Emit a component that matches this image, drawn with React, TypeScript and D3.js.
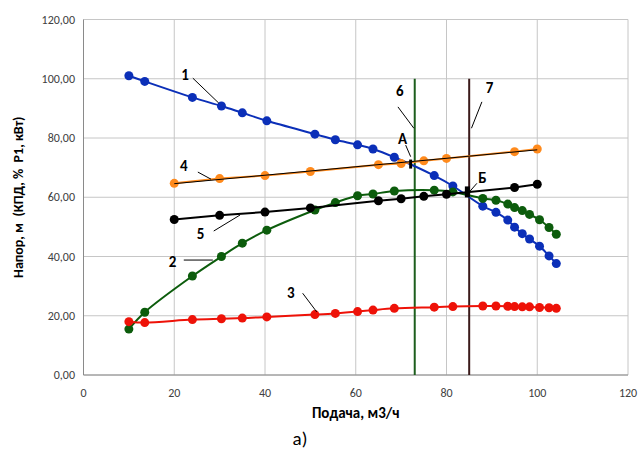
import React from "react";
import * as d3 from "d3";

// Shared flow values (m3/h) for series 1, 2, 3
const flowQ = [10, 13.5, 24, 30.4, 35, 40.4, 51, 55.5, 60.4, 63.8, 68.5, 77.3, 81.4, 88, 90.9, 93.5, 95, 96.7, 98.3, 100.5, 102.6, 104.2];
const headH = [101.0, 99.1, 93.7, 90.8, 88.5, 85.8, 81.3, 79.4, 77.7, 76.3, 73.5, 67.3, 63.8, 57.0, 54.9, 52.3, 49.9, 47.7, 45.9, 43.5, 40.2, 37.6];
const efficiency = [15.5, 21.2, 33.4, 40.0, 44.5, 48.9, 55.7, 58.2, 60.5, 61.1, 62.1, 62.4, 61.8, 59.6, 59.0, 57.7, 56.5, 55.5, 54.2, 52.4, 49.8, 47.5];
const powerP1 = [18.0, 17.7, 18.7, 19.0, 19.2, 19.6, 20.4, 20.8, 21.4, 21.9, 22.5, 22.9, 23.1, 23.3, 23.3, 23.2, 23.1, 23.0, 23.0, 22.8, 22.7, 22.5];

// Network characteristics (series 4, 5)
const netQ = [20, 30, 40, 50, 65, 70, 75, 80, 95, 100];
const net4 = [64.7, 66.3, 67.3, 68.7, 71.0, 71.4, 72.3, 73.1, 75.4, 76.3];
const net5 = [52.5, 53.9, 55.0, 56.4, 58.8, 59.5, 60.3, 61.0, 63.3, 64.4];

// Vertical lines 6 and 7
const verticalQ = [73, 85];
const verticalTop = 100;

// Operating points А and Б
const opPoints = [
  { q: 72.1, v: 71.2 },
  { q: 84.6, v: 61.8 },
];

// Callout labels: text position and leader line (data coordinates)
const callouts = [
  { t: "1", tx: 22.4, ty: 101.4, x1: 24.1, y1: 100.2, x2: 29.8, y2: 91.8 },
  { t: "4", tx: 22.1, ty: 70.5, x1: 25.2, y1: 68.5, x2: 28.1, y2: 66.1 },
  { t: "5", tx: 25.8, ty: 47.6, x1: 28.7, y1: 48.6, x2: 34.5, y2: 54.0 },
  { t: "2", tx: 19.6, ty: 38.2, x1: 22.1, y1: 38.8, x2: 28.5, y2: 38.8 },
  { t: "3", tx: 45.7, ty: 27.6, x1: 48.3, y1: 27.6, x2: 51.4, y2: 21.3 },
  { t: "6", tx: 69.7, ty: 95.8, x1: 69.3, y1: 90.5, x2: 72.8, y2: 83.3 },
  { t: "А", tx: 70.3, ty: 79.6, x1: 71.0, y1: 77.6, x2: 72.1, y2: 73.7 },
  { t: "7", tx: 89.5, ty: 96.9, x1: 87.8, y1: 92.2, x2: 85.5, y2: 83.3 },
  { t: "Б", tx: 87.9, ty: 66.6, x1: 86.7, y1: 64.7, x2: 85.1, y2: 61.9 },
];

const xTicks = [0, 20, 40, 60, 80, 100, 120];
const yTicks = [0, 20, 40, 60, 80, 100, 120];

const xTitle = "Подача, м3/ч";
const yTitle = "Напор, м  (КПД, %  Р1, кВт)";
const caption = "а)";

export default function App() {
  const W = 639, H = 455;
  const left = 83.5, right = 628, top = 19.5, bottom = 375;
  const x = d3.scaleLinear().domain([0, 120]).range([left, right]);
  const y = d3.scaleLinear().domain([0, 120]).range([bottom, top]);
  const fmt = (v: number) => v.toFixed(2).replace(".", ",");

  const smooth = d3.line<[number, number]>().x(d => x(d[0])).y(d => y(d[1])).curve(d3.curveCatmullRom.alpha(0.5));
  const straight = d3.line<[number, number]>().x(d => x(d[0])).y(d => y(d[1]));

  const s1 = flowQ.map((q, i) => [q, headH[i]] as [number, number]);
  const s2 = flowQ.map((q, i) => [q, efficiency[i]] as [number, number]);
  const s3 = flowQ.map((q, i) => [q, powerP1[i]] as [number, number]);
  const s4 = netQ.map((q, i) => [q, net4[i]] as [number, number]);
  const s5 = netQ.map((q, i) => [q, net5[i]] as [number, number]);

  // linear trendline for series 4
  const mx = d3.mean(netQ)!, my = d3.mean(net4)!;
  const slope = d3.sum(netQ.map((q, i) => (q - mx) * (net4[i] - my))) / d3.sum(netQ.map(q => (q - mx) ** 2));
  const icpt = my - slope * mx;
  const trend: [number, number][] = [[netQ[0], icpt + slope * netQ[0]], [netQ[netQ.length - 1], icpt + slope * netQ[netQ.length - 1]]];

  const series = [
    { pts: s1, color: "#0b2fb8", gen: smooth },
    { pts: s2, color: "#0c5c0c", gen: smooth },
    { pts: s3, color: "#ee1208", gen: smooth },
    { pts: s4, color: "#ff8a1c", gen: straight },
    { pts: s5, color: "#000000", gen: straight },
  ];

  const font = "Carlito, Lato, 'Open Sans', sans-serif";

  return (
    <div style={{ position: "fixed", left: 0, top: 0 }}>
      <svg width={W} height={H} style={{ display: "block", background: "#fff" }}>
        {/* gridlines */}
        {yTicks.map(t => (
          <line key={"gy" + t} x1={left} x2={right} y1={y(t)} y2={y(t)} stroke="#c6c6c6" strokeWidth={1} />
        ))}
        {xTicks.map(t => (
          <line key={"gx" + t} x1={x(t)} x2={x(t)} y1={top} y2={bottom} stroke="#c6c6c6" strokeWidth={1} />
        ))}
        <line x1={left} x2={left} y1={top} y2={bottom} stroke="#8a8a8a" strokeWidth={1} />
        <line x1={left} x2={right} y1={bottom} y2={bottom} stroke="#8a8a8a" strokeWidth={1} />

        {/* tick labels */}
        {yTicks.map(t => (
          <text key={"ty" + t} x={75} y={y(t)} textAnchor="end" dominantBaseline="central" fontFamily={font} fontSize={12} fill="#404040">{fmt(t)}</text>
        ))}
        {xTicks.map(t => (
          <text key={"tx" + t} x={x(t)} y={393} textAnchor="middle" dominantBaseline="central" fontFamily={font} fontSize={12} fill="#404040">{t}</text>
        ))}

        {/* vertical lines 6, 7 */}
        <line x1={x(verticalQ[0])} x2={x(verticalQ[0])} y1={y(verticalTop)} y2={bottom} stroke="#1d5e1d" strokeWidth={2} />
        <line x1={x(verticalQ[1])} x2={x(verticalQ[1])} y1={y(verticalTop)} y2={bottom} stroke="#3b1a1a" strokeWidth={2} />

        {/* series */}
        {series.map((s, i) => (
          <g key={"s" + i}>
            <path d={s.gen(s.pts) || ""} fill="none" stroke={s.color} strokeWidth={2} />
            {s.pts.map((p, j) => (
              <circle key={j} cx={x(p[0])} cy={y(p[1])} r={4.5} fill={s.color} />
            ))}
          </g>
        ))}
        <path d={straight(trend) || ""} fill="none" stroke="#000" strokeWidth={1} />

        {/* operating points */}
        <rect x={x(opPoints[0].q) - 1.5} y={y(opPoints[0].v) - 4.5} width={3} height={9} fill="#000" />
        <rect x={x(opPoints[1].q) - 2.5} y={y(opPoints[1].v) - 5.5} width={5} height={11} fill="#000" />

        {/* callouts */}
        {callouts.map(c => (
          <g key={"c" + c.t}>
            <line x1={x(c.x1)} y1={y(c.y1)} x2={x(c.x2)} y2={y(c.y2)} stroke="#000" strokeWidth={1} />
            <text x={x(c.tx)} y={y(c.ty)} textAnchor="middle" dominantBaseline="central" fontFamily={font} fontSize={15} fontWeight="bold" fill="#000">{c.t}</text>
          </g>
        ))}

        {/* axis titles */}
        <text x={(left + right) / 2} y={413} textAnchor="middle" dominantBaseline="central" fontFamily={font} fontSize={15} fontWeight="bold" fill="#000">{xTitle}</text>
        <text transform={`translate(18,${(top + bottom) / 2}) rotate(-90)`} textAnchor="middle" dominantBaseline="central" fontFamily={font} fontSize={14} fontWeight="bold" fill="#000" style={{ whiteSpace: "pre" }}>{yTitle}</text>
        <text x={300} y={438} textAnchor="middle" dominantBaseline="central" fontFamily={font} fontSize={19} fill="#000">{caption}</text>
      </svg>
    </div>
  );
}
